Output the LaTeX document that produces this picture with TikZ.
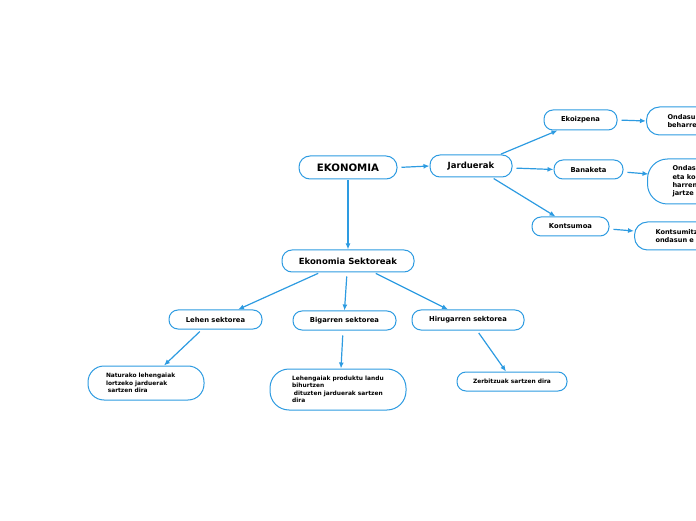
\documentclass[tikz,border=0pt]{standalone}
\usepackage{fontspec}
\setmainfont{DejaVu Sans}
\usetikzlibrary{arrows.meta, calc}
\definecolor{mapblue}{RGB}{45,155,225}
\tikzset{
    >=Latex,
    map_node/.style={
        rectangle,
        rounded corners=9pt,
        draw=mapblue,
        line width=1pt,
        fill=white,
        inner sep=0pt,
        align=center,
        font=\bfseries\fontsize{6.8}{8}\selectfont
    },
    map_root/.style={
        map_node,
        rounded corners=11pt,
        font=\bfseries\fontsize{10.2}{12}\selectfont
    },
    map_topic/.style={
        map_node,
        rounded corners=10pt,
        font=\bfseries\fontsize{8.5}{10}\selectfont
    },
    map_leaf/.style={
        map_node,
        align=left,
        font=\bfseries\fontsize{5.9}{7.5}\selectfont
    },
    map_cut/.style={
        map_node,
        anchor=west,
        align=left,
        text width=60pt,
        font=\bfseries\fontsize{6.6}{8.2}\selectfont
    },
    map_arrow/.style={
        -{Latex[length=6pt,width=5pt]},
        draw=mapblue,
        line width=1.2pt,
        shorten <=3pt
    }
}

\begin{document}
\begin{tikzpicture}[x=1pt, y=1pt]
\useasboundingbox (0,0) rectangle (696,520);
\clip (0,0) rectangle (696,520);

\node[map_root, minimum width=98pt, minimum height=23pt] (ekonomia) at (348,352.5) {EKONOMIA};
\node[map_topic, minimum width=82pt, minimum height=22pt] (jarduerak) at (471,354) {Jarduerak};
\node[map_topic, minimum width=132pt, minimum height=22pt] (sektoreak) at (348,259) {Ekonomia Sektoreak};

% jarduerak
\node[map_node, minimum width=73pt, minimum height=20pt] (ekoizpena) at (580.5,400) {Ekoizpena};
\node[map_node, minimum width=69pt, minimum height=19pt] (banaketa) at (588.5,350.5) {Banaketa};
\node[map_node, minimum width=77pt, minimum height=19pt] (kontsumoa) at (570.5,293.5) {Kontsumoa};
\node[map_cut, rounded corners=13pt, minimum height=28pt, inner xsep=21pt] (ondasunak) at (646,399)
  {Ondasu\\beharre};
\node[map_cut, rounded corners=20pt, minimum height=45pt, inner xsep=25pt] (ondasBan) at (647,338.5)
  {Ondas\\eta ko\\harren\\jartze};
\node[map_cut, rounded corners=13pt, minimum height=28pt, inner xsep=21pt] (kontsumitz) at (634,284)
  {Kontsumitz\\ondasun e};

% sektoreak
\node[map_node, minimum width=93pt, minimum height=19pt] (lehen) at (215.5,200.5) {Lehen sektorea};
\node[map_node, minimum width=103pt, minimum height=19pt] (bigarren) at (344.5,199.5) {Bigarren sektorea};
\node[map_node, minimum width=112pt, minimum height=20pt] (hirugarren) at (468,200) {Hirugarren sektorea};
\node[map_leaf, rounded corners=16pt, minimum width=116pt, minimum height=34pt, text width=80pt, inner xsep=18pt] (naturako) at (146,137)
  {Naturako lehengaiak\\lortzeko jarduerak\\\hspace*{0.3em}sartzen dira};
\node[map_leaf, rounded corners=19pt, minimum width=136pt, minimum height=41pt] (lehengaiak) at (338,130.5)
  {Lehengaiak produktu landu\\bihurtzen\\\hspace*{0.3em}dituzten jarduerak sartzen\\dira};
\node[map_leaf, align=center, minimum width=110pt, minimum height=19pt] (zerbitzuak) at (512,138.5)
  {Zerbitzuak sartzen dira};

\draw[map_arrow, shorten <=4pt] (ekonomia.east) -- (jarduerak.west);
\draw[map_arrow, shorten <=1pt] (ekonomia.south) -- (sektoreak.north);
\draw[map_arrow, shorten <=1pt] ([xshift=29pt]jarduerak.north) -- ([xshift=-23pt]ekoizpena.south);
\draw[map_arrow, shorten <=4pt] ([yshift=-2pt]jarduerak.east) -- (banaketa.west);
\draw[map_arrow, shorten <=2pt] ([xshift=21pt]jarduerak.south) -- ([xshift=-15pt]kontsumoa.north);
\draw[map_arrow, shorten <=4pt] (ekoizpena.east) -- (ondasunak.west);
\draw[map_arrow, shorten <=4pt] ([yshift=-2.5pt]banaketa.east) -- ([xshift=1.5pt, yshift=7.5pt]ondasBan.west);
\draw[map_arrow, shorten <=4pt] ([yshift=-2.5pt]kontsumoa.east) -- ([yshift=5pt]kontsumitz.west);
\draw[map_arrow, shorten <=2pt] ([xshift=-28pt]sektoreak.south) -- ([xshift=22.5pt]lehen.north);
\draw[map_arrow, shorten <=4pt] ([xshift=-1pt]sektoreak.south) -- (bigarren.north);
\draw[map_arrow, shorten <=2pt] ([xshift=26pt]sektoreak.south) -- ([xshift=-20pt]hirugarren.north);
\draw[map_arrow] ([xshift=-13.5pt]lehen.south) -- ([xshift=18pt]naturako.north);
\draw[map_arrow, shorten <=5pt] ([xshift=-1.5pt]bigarren.south) -- ([xshift=3pt]lehengaiak.north);
\draw[map_arrow] ([xshift=9pt]hirugarren.south) -- ([xshift=-6pt]zerbitzuak.north);

\end{tikzpicture}
\end{document}
